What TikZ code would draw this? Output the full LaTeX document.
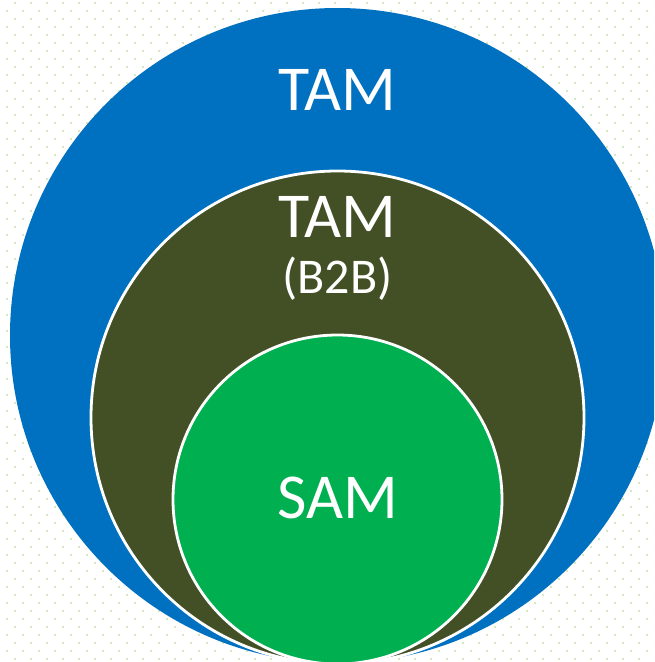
\documentclass[tikz,border=0pt]{standalone}
\usepackage{fontspec}
\setmainfont{Carlito}
\definecolor{tamblue}{HTML}{0070C0}
\definecolor{b2bolive}{HTML}{434F24}
\definecolor{samgreen}{HTML}{00B050}
\definecolor{dotgreen}{HTML}{D6E8BE}
\tikzset{
    ring/.style={draw=white, line width=2.8pt},
    lbl/.style={text=white, anchor=base, inner sep=0pt, font=\fontsize{64}{70}\selectfont},
    sublbl/.style={lbl, font=\fontsize{50}{56}\selectfont}
}
\begin{document}
\begin{tikzpicture}[x=1pt, y=-1pt]
            \useasboundingbox (0,0) rectangle (654,662);
            \clip (0,0) rectangle (654,662);
            % dotted backdrop
            \foreach \j in {0,...,82}{
                \pgfmathsetmacro{\off}{mod(\j,2)==0 ? 14.7 : 6.7}
                \foreach \i in {0,...,40}{
                    \fill[dotgreen] (\off+16*\i-1,2.7+8*\j-1) rectangle ++(2,2);
                }
            }
            % three markets
            \fill[tamblue] (337.5,335.5) circle (327.5);
            \filldraw[ring, fill=b2bolive] (337.5,417.5) circle (246.5);
            \filldraw[ring, fill=samgreen] (337.5,499.5) circle (164.5);
            \node[lbl] (tam) at (337.5,110) {TAM};
            \node[lbl] (tamb) at (337.5,237) {TAM};
            \node[sublbl] (btob) at (337.5,293) {(B2B)};
            \node[lbl] (sam) at (337.5,518) {SAM};
        \end{tikzpicture}
\end{document}
